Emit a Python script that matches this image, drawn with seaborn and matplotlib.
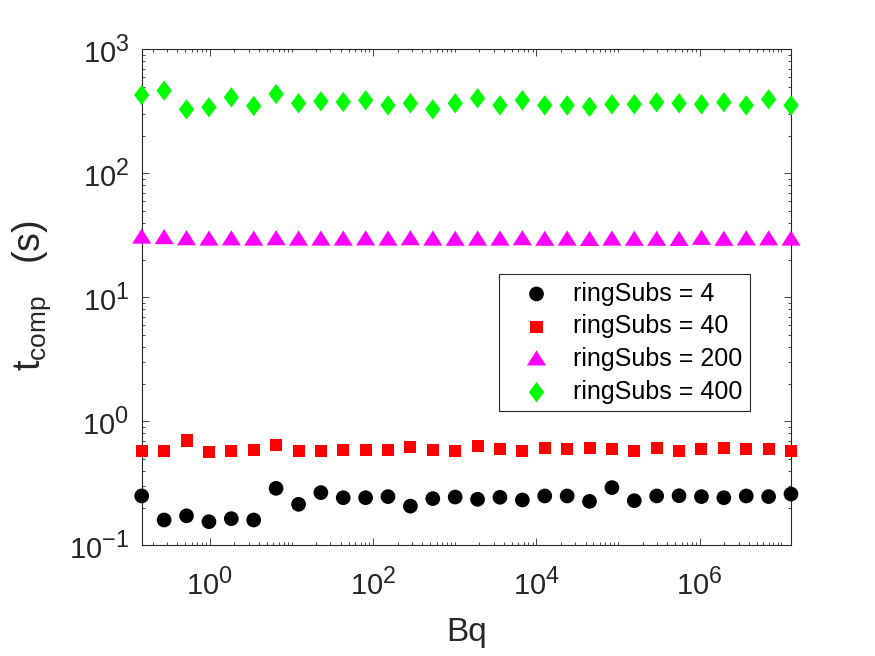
import numpy as np
import pandas as pd
import matplotlib
matplotlib.use("Agg")
import matplotlib.pyplot as plt
import matplotlib._mathtext as _mt
from matplotlib.path import Path
from matplotlib.ticker import LogLocator, FixedLocator, NullFormatter
import seaborn as sns

# ---------------- data ----------------
bq = [0.146, 0.275, 0.517, 0.973, 1.83, 3.44, 6.47, 12.2, 22.9, 43.0,
      80.9, 152, 286, 538, 1012, 1903, 3579, 6731, 12660, 23810,
      44770, 84200, 158300, 297800, 560000, 1.053e6, 1.981e6, 3.725e6, 7.005e6, 1.317e7]

t_rs4 = [0.250, 0.160, 0.173, 0.155, 0.164, 0.160, 0.288, 0.214, 0.266, 0.242,
         0.242, 0.247, 0.207, 0.238, 0.245, 0.235, 0.244, 0.232, 0.250, 0.250,
         0.226, 0.292, 0.229, 0.250, 0.251, 0.247, 0.242, 0.250, 0.247, 0.259]

t_rs40 = [0.58, 0.58, 0.70, 0.57, 0.58, 0.59, 0.64, 0.58, 0.58, 0.59,
          0.59, 0.59, 0.62, 0.59, 0.58, 0.636, 0.594, 0.579, 0.612, 0.594,
          0.612, 0.594, 0.579, 0.612, 0.579, 0.594, 0.612, 0.594, 0.594, 0.579]

t_rs200 = [30.3, 30.0, 29.4, 29.2, 29.3, 29.2, 29.4, 29.2, 29.2, 29.2,
           29.3, 29.2, 29.4, 29.2, 29.1, 29.2, 29.2, 29.4, 29.1, 29.2,
           29.0, 29.2, 29.1, 29.1, 29.0, 29.6, 29.1, 29.3, 29.3, 29.2]

t_rs400 = [428, 464, 328, 341, 410, 349, 436, 367, 381, 376,
           388, 353, 367, 328, 367, 403, 353, 388, 353, 353,
           344, 360, 360, 374, 367, 360, 374, 353, 395, 353]

series_labels = ["ringSubs = 4", "ringSubs = 40", "ringSubs = 200", "ringSubs = 400"]
series_values = [t_rs4, t_rs40, t_rs200, t_rs400]

xticks_major = [1e0, 1e2, 1e4, 1e6]
yticks_major = [1e-1, 1e0, 1e1, 1e2, 1e3]

# ---------------- styles ----------------
colors = ["#000000", "#FF0000", "#FF00FF", "#00FF00"]
square = Path([(-1, -1), (1, -1), (1, 1), (-1, 1), (-1, -1)],
              [Path.MOVETO, Path.LINETO, Path.LINETO, Path.LINETO, Path.CLOSEPOLY])
tri = Path([(-9.5, -6), (9.5, -6), (0, 9), (-9.5, -6)],
           [Path.MOVETO, Path.LINETO, Path.LINETO, Path.CLOSEPOLY])
diam = Path([(0, 10), (7.5, 0), (0, -10), (-7.5, 0), (0, 10)],
            [Path.MOVETO, Path.LINETO, Path.LINETO, Path.LINETO, Path.CLOSEPOLY])
markers = ["o", square, tri, diam]
sizes = [112, 75, 190, 215]

df = pd.concat(
    [pd.DataFrame({"Bq": bq, "t": vals, "series": lab})
     for lab, vals in zip(series_labels, series_values)],
    ignore_index=True)

sns.set_theme(style="ticks")
plt.rcParams["font.family"] = ["Liberation Sans", "DejaVu Sans"]
plt.rcParams["mathtext.fontset"] = "custom"
plt.rcParams["mathtext.rm"] = "Liberation Sans"
plt.rcParams["mathtext.it"] = "Liberation Sans:italic"
plt.rcParams["mathtext.bf"] = "Liberation Sans:bold"

fig = plt.figure(figsize=(8.75, 6.56), dpi=100)
ax = fig.add_axes([141.7 / 875, 1 - 545.3 / 656, (791 - 141.7) / 875, (545.3 - 49.3) / 656])

for lab, col, mk, sz in zip(series_labels, colors, markers, sizes):
    sub = df[df["series"] == lab]
    sns.scatterplot(data=sub, x="Bq", y="t", ax=ax, color=col, marker=mk, s=sz,
                    edgecolor="none", linewidth=0, label=lab, clip_on=False, zorder=3)

ax.set_xscale("log")
ax.set_yscale("log")
ax.set_xlim(bq[0], bq[-1])
ax.set_ylim(yticks_major[0], yticks_major[-1])

ax.xaxis.set_major_locator(FixedLocator(xticks_major))
ax.xaxis.set_minor_locator(LogLocator(base=10, subs=np.arange(1, 10), numticks=100))
ax.xaxis.set_minor_formatter(NullFormatter())
ax.yaxis.set_major_locator(FixedLocator(yticks_major))
ax.yaxis.set_minor_locator(LogLocator(base=10, subs=np.arange(2, 10), numticks=100))
ax.yaxis.set_minor_formatter(NullFormatter())

axis_col = "#262626"
for sp in ax.spines.values():
    sp.set_visible(True)
    sp.set_linewidth(0.8)
    sp.set_color(axis_col)
ax.tick_params(which="both", direction="in", top=True, right=True, colors=axis_col,
               width=0.6, labelsize=21, labelcolor=axis_col)
ax.tick_params(which="major", length=5)
ax.tick_params(which="minor", length=2.5)
ax.tick_params(axis="x", which="major", pad=16)
ax.tick_params(axis="y", which="major", pad=9)

ax.set_xlabel("Bq", fontsize=24, color=axis_col)
ax.xaxis.set_label_coords(0.5, -0.145)
ax.set_ylabel("")

leg = ax.legend(loc="upper left", bbox_to_anchor=(499 / 875, 1 - 274 / 656),
                bbox_transform=fig.transFigure, borderaxespad=0, fontsize=18,
                frameon=True, fancybox=False, framealpha=1, edgecolor=axis_col,
                handlelength=2.4, handletextpad=0.25, labelspacing=0.35, borderpad=0.3,
                scatterpoints=1)
leg.get_frame().set_linewidth(0.8)
for txt in leg.get_texts():
    txt.set_color("#000000")

# tick labels: slightly larger superscripts (MATLAB-like)
_mt.SHRINK_FACTOR = 0.8
fig.canvas.draw()
_mt.SHRINK_FACTOR = 0.7

fig.text(32 / 875, 1 - 296 / 656, r"$\mathrm{t}_{\mathrm{comp}}\quad\mathrm{(s)}$",
         rotation=90, ha="center", va="center", fontsize=27, color=axis_col)

fig.savefig("out.png", dpi=100, facecolor="white")
